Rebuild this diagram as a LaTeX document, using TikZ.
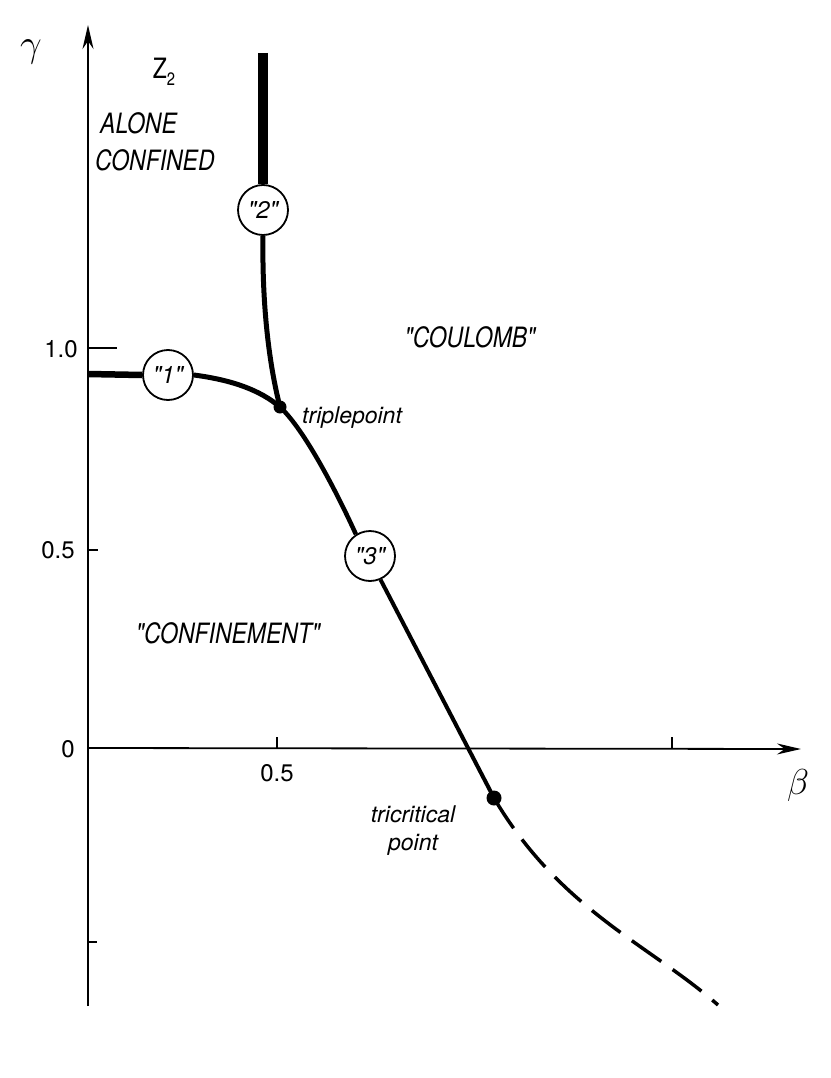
\documentclass[tikz,border=0pt]{standalone}
\usepackage{fontspec}
\newfontfamily\lbl[FakeStretch=0.82]{TeX Gyre Heros}
\newfontfamily\lblw{TeX Gyre Heros}
\usetikzlibrary{arrows.meta}
\begin{document}
\begin{tikzpicture}[x=1pt,y=-1pt,
 axis/.style={line width=1.8pt},
 tick/.style={line width=2pt},
 lab/.style={font=\lbl\itshape\fontsize{28}{30}\selectfont, inner sep=0},
 small/.style={font=\lblw\itshape\fontsize{23}{28}\selectfont, inner sep=0, align=center},
 num/.style={font=\lblw\fontsize{24}{26}\selectfont, inner sep=0},
 greek/.style={inner sep=0, font=\fontsize{34}{36}\selectfont},
 ring/.style={circle, draw, line width=1.8pt, fill=white, minimum size=50pt, inner sep=0,
   font=\lblw\itshape\fontsize{24}{26}\selectfont},
 dot/.style={circle, fill=black, inner sep=0},
 arr/.style={-{Stealth[length=24pt,width=11pt]}},
]
\useasboundingbox (0,0) rectangle (830,1078);

% axes
\coordinate (yb) at (88,1006);
\coordinate (yt) at (88,25);
\coordinate (xl) at (88,748);
\coordinate (xr) at (801,749);
\draw[axis,arr] (yb) -- (yt);
\draw[axis,arr] (xl) -- (xr);

% ticks
\coordinate (t10) at (88,348);  \coordinate (t10e) at (117,348);
\coordinate (t05) at (88,550);  \coordinate (t05e) at (98,550);
\coordinate (tm5) at (88,942);  \coordinate (tm5e) at (97,942);
\coordinate (bx5) at (277,748); \coordinate (bx5e) at (277,737);
\coordinate (bx1) at (672,748); \coordinate (bx1e) at (672,737);
\draw[tick] (t10) -- (t10e);
\draw[tick] (t05) -- (t05e);
\draw[tick] (tm5) -- (tm5e);
\draw[tick] (bx5) -- (bx5e);
\draw[tick] (bx1) -- (bx1e);

% tick labels
\node[num] (l10) at (61,349) {1.0};
\node[num] (l05) at (58,550) {0.5};
\node[num] (l0) at (68,749) {0};
\node[num] (lx5) at (277,773) {0.5};

% axis labels
\node[greek] (gam) at (31,52) {\scalebox{1.55}{$\gamma$}};
\node[greek] (bet) at (798,785) {\scalebox{1.45}{$\beta$}};

% nodes on the lines
\node[ring] (c2) at (263,210) {"2"};
\node[ring] (c1) at (168,375) {"1"};
\node[ring] (c3) at (370,556) {"3"};
\node[dot, minimum size=13pt] (tp) at (280,407) {};
\node[dot, minimum size=15pt] (tc) at (494,798) {};
\coordinate (top2) at (263,53);
\coordinate (y1) at (88,374);
\coordinate (dend) at (718,1005);

% phase lines
\draw[line width=10pt] (top2) -- (c2.north);
\draw[line width=5pt] (c2.south) .. controls (262,300) and (268,360) .. (tp.center);
\draw[line width=6.5pt] (y1) -- (c1.west);
\draw[line width=5pt] (c1.east) .. controls (232,380) and (260,390) .. (tp.center);
\draw[line width=4.5pt] (tp.center) .. controls (305,430) and (338,495) .. (c3.123);
\draw[line width=4pt] (c3.-66) -- (tc.center);
\draw[line width=3.5pt, dash pattern=on 36pt off 14pt] (tc.center) .. controls (560,910) and (650,945) .. (dend);

% region labels
\node[inner sep=0, font=\lbl\fontsize{28}{30}\selectfont] (z2) at (164,72) {Z\raisebox{-7pt}{\fontsize{18}{18}\selectfont 2}};
\node[lab, anchor=west] (alone) at (100,123) {ALONE};
\node[lab, anchor=west] (conf) at (95,160) {CONFINED};
\node[lab] (coul) at (470,337) {"COULOMB"};
\node[lab] (confm) at (228,633) {"CONFINEMENT"};
\node[small, anchor=west] (tpl) at (302,418) {triplepoint};
\node[small] (tcl) at (413,831) {tricritical\\point};
\end{tikzpicture}
\end{document}
